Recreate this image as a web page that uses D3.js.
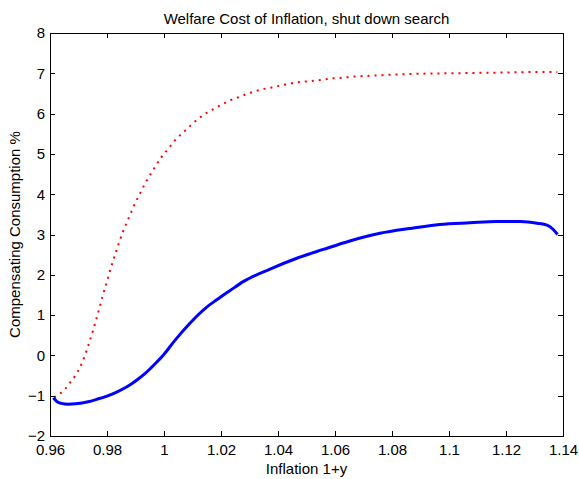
<!DOCTYPE html>
<html>
<head>
<meta charset="utf-8">
<script src="https://cdn.jsdelivr.net/npm/d3@7"></script>
<style>
  html, body { margin: 0; padding: 0; background: #fff; }
  svg { display: block; }
  text { font-family: "Liberation Sans", Arial, sans-serif; fill: #000; }
</style>
</head>
<body>
<svg id="chart" width="579" height="479"></svg>
<script>
const title = "Welfare Cost of Inflation, shut down search";
const xLabel = "Inflation 1+y";
const yLabel = "Compensating Consumption %";
const xTicks = [0.96, 0.98, 1.00, 1.02, 1.04, 1.06, 1.08, 1.10, 1.12, 1.14];
const xTickLabels = ["0.96", "0.98", "1", "1.02", "1.04", "1.06", "1.08", "1.1", "1.12", "1.14"];
const yTicks = [-2, -1, 0, 1, 2, 3, 4, 5, 6, 7, 8];

const redX = [0.9615,0.9635,0.9655,0.967,0.9688,0.9705,0.972,0.9738,0.9752,0.9764,0.9775,0.9785,0.9799,0.9814,0.9832,0.9855,0.9878,0.9895,0.9916,0.9937,0.9962,0.999,1.0021,1.0039,1.0059,1.0076,1.0095,1.0129,1.015,1.0173,1.0196,1.0229,1.0255,1.0296,1.0337,1.0378,1.0419,1.0462,1.0503,1.0544,1.0585,1.0627,1.0668,1.0729,1.0813,1.09,1.10,1.11,1.12,1.13,1.138];
const redY = [-1.04,-0.95,-0.82,-0.68,-0.51,-0.30,-0.05,0.33,0.64,0.94,1.22,1.48,1.81,2.18,2.58,3.05,3.44,3.72,4.02,4.31,4.60,4.91,5.18,5.34,5.48,5.59,5.72,5.92,6.02,6.11,6.20,6.32,6.39,6.50,6.59,6.65,6.71,6.77,6.80,6.83,6.87,6.89,6.92,6.94,6.97,6.99,7.00,7.01,7.02,7.03,7.03];

const blueX = [0.9612,0.9625,0.964,0.9664,0.969,0.9734,0.9764,0.98,0.9834,0.987,0.9905,0.9935,0.9963,0.9998,1.0039,1.0091,1.015,1.0185,1.0232,1.0278,1.0372,1.0466,1.0559,1.0652,1.0758,1.0863,1.0968,1.1074,1.1167,1.1251,1.1309,1.1344,1.1365,1.1381];
const blueY = [-1.05,-1.15,-1.19,-1.21,-1.20,-1.15,-1.09,-1.01,-0.91,-0.78,-0.61,-0.44,-0.25,0.01,0.38,0.80,1.20,1.38,1.61,1.83,2.14,2.41,2.63,2.84,3.03,3.15,3.25,3.29,3.32,3.32,3.28,3.23,3.13,3.00];

const svg = d3.select("#chart");
const L = 50, R = 563, T = 33, B = 436;
const FS = 15;
const x = d3.scaleLinear().domain([0.96, 1.14]).range([L, R]);
const y = d3.scaleLinear().domain([-2, 8]).range([B, T]);

svg.append("rect").attr("x", L).attr("y", T).attr("width", R - L).attr("height", B - T)
  .attr("fill", "#fff");

const line = d3.line().x(d => x(d[0])).y(d => y(d[1])).curve(d3.curveMonotoneX);

const redData = redX.map((v, i) => [v, redY[i]]);
const blueData = blueX.map((v, i) => [v, blueY[i]]);

svg.append("path").datum(redData).attr("d", line)
  .attr("fill", "none").attr("stroke", "#ff0000").attr("stroke-width", 2)
  .attr("stroke-dasharray", "2,5");

svg.append("path").datum(blueData).attr("d", line)
  .attr("fill", "none").attr("stroke", "#0000ff").attr("stroke-width", 3)
  .attr("stroke-linejoin", "round");

const styleText = g => g.selectAll("text").attr("font-size", FS).attr("font-family", "Liberation Sans, Arial, sans-serif").attr("fill", "#000");

svg.append("g").attr("transform", `translate(0,${B})`)
  .call(d3.axisBottom(x).tickValues(xTicks).tickFormat((d, i) => xTickLabels[i]).tickSizeInner(-5).tickSizeOuter(0).tickPadding(8))
  .call(g => { g.select(".domain").remove(); styleText(g); });
svg.append("g").attr("transform", `translate(0,${T})`)
  .call(d3.axisTop(x).tickValues(xTicks).tickFormat("").tickSizeInner(-5).tickSizeOuter(0))
  .call(g => g.select(".domain").remove());
svg.append("g").attr("transform", `translate(${L},0)`)
  .call(d3.axisLeft(y).tickValues(yTicks).tickFormat(d3.format("d")).tickSizeInner(-5).tickSizeOuter(0).tickPadding(5))
  .call(g => { g.select(".domain").remove(); styleText(g); });
svg.append("g").attr("transform", `translate(${R},0)`)
  .call(d3.axisRight(y).tickValues(yTicks).tickFormat("").tickSizeInner(-5).tickSizeOuter(0))
  .call(g => g.select(".domain").remove());

svg.append("rect").attr("x", L).attr("y", T).attr("width", R - L).attr("height", B - T)
  .attr("fill", "none").attr("stroke", "#000").attr("stroke-width", 1)
  .attr("shape-rendering", "crispEdges");
svg.selectAll(".tick line").attr("stroke", "#000").attr("shape-rendering", "crispEdges");

svg.append("text").attr("x", (L + R) / 2).attr("y", 24).attr("text-anchor", "middle")
  .attr("font-size", FS).text(title);
svg.append("text").attr("x", (L + R) / 2).attr("y", 474).attr("text-anchor", "middle")
  .attr("font-size", FS).text(xLabel);
svg.append("text").attr("transform", `translate(20,${(T + B) / 2}) rotate(-90)`).attr("text-anchor", "middle")
  .attr("font-size", FS).text(yLabel);
</script>
</body>
</html>
